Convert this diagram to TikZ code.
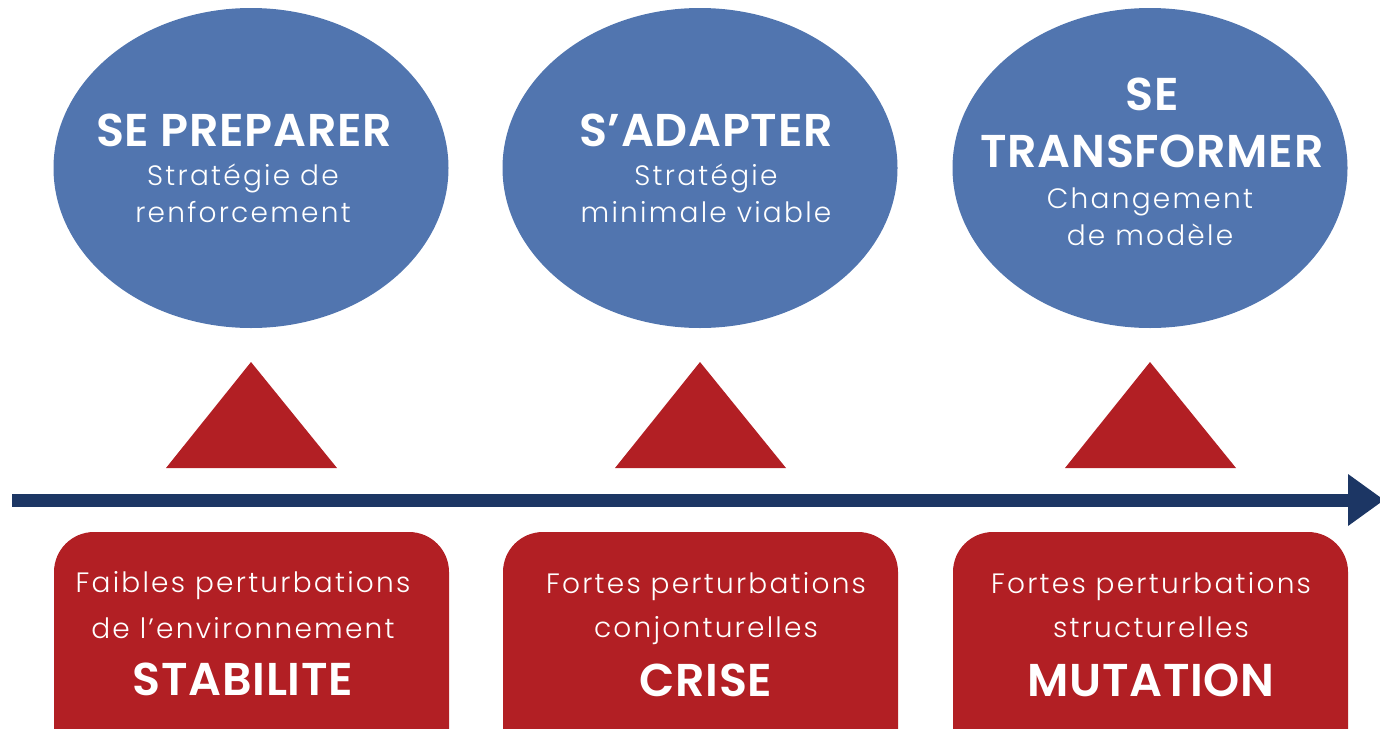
\documentclass[tikz,border=0pt]{standalone}
\usepackage{fontspec}
\usetikzlibrary{shapes.geometric}
\newfontfamily\thinf[LetterSpace=8]{Poppins Light}
\newfontfamily\boldf[LetterSpace=1.5]{Poppins SemiBold}
\definecolor{eblue}{HTML}{5175AF}
\definecolor{bred}{HTML}{B21F24}
\definecolor{navy}{HTML}{1C3664}
\tikzset{
  oval/.style={ellipse, fill=eblue, draw=none, minimum width=395pt, minimum height=320pt, inner sep=0pt},
  card/.style={fill=bred, draw=none, rounded corners=40pt},
  tri/.style={fill=bred, draw=none},
  big/.style={text=white, anchor=base, inner sep=0pt, font=\boldf\fontsize{46}{50}\selectfont},
  small/.style={text=white, anchor=base, inner sep=0pt, font=\thinf\fontsize{28}{32}\selectfont},
}
\begin{document}
\begin{tikzpicture}[x=1pt,y=-1pt]
\useasboundingbox (0,0) rectangle (1380,728);
% ellipses
\node[oval] (e1) at (251,168) {};
\node[oval] (e2) at (700,168) {};
\node[oval] (e3) at (1150,168) {};
\node[big] (t1a) at (244,146) {SE PREPARER};
\node[small] (t1b) at (243,185) {Stratégie de};
\node[small] (t1c) at (243,222) {renforcement};
\node[big] (t2a) at (706,146) {S’ADAPTER};
\node[small] (t2b) at (706,185) {Stratégie};
\node[small] (t2c) at (706,222) {minimale viable};
\node[big] (t3a) at (1152,110) {SE};
\node[big] (t3b) at (1152,167) {TRANSFORMER};
\node[small] (t3c) at (1150,208) {Changement};
\node[small] (t3d) at (1150,245) {de modèle};
% triangles
\fill[tri] (166,468) -- (251,362) -- (337,468) -- cycle;
\fill[tri] (615,468) -- (700,362) -- (786,468) -- cycle;
\fill[tri] (1065,468) -- (1150,362) -- (1236,468) -- cycle;
% arrow
\coordinate (as) at (12,500);
\coordinate (ae) at (1349,500);
\draw[navy, line width=13pt] (as) -- (ae);
\fill[navy] (1348,474) -- (1384,500) -- (1348,526) -- cycle;
% cards
\fill[card] (54,532) rectangle (449,790);
\fill[card] (503,532) rectangle (898,790);
\fill[card] (953,532) rectangle (1348,790);
\node[small] (b1a) at (243,592) {Faibles perturbations};
\node[small] (b1b) at (243,638) {de l’environnement};
\node[big] (b1c) at (243,695) {STABILITE};
\node[small] (b2a) at (706,593) {Fortes perturbations};
\node[small] (b2b) at (706,637) {conjonturelles};
\node[big] (b2c) at (706,696) {CRISE};
\node[small] (b3a) at (1151,593) {Fortes perturbations};
\node[small] (b3b) at (1151,637) {structurelles};
\node[big] (b3c) at (1151,696) {MUTATION};
\end{tikzpicture}
\end{document}
